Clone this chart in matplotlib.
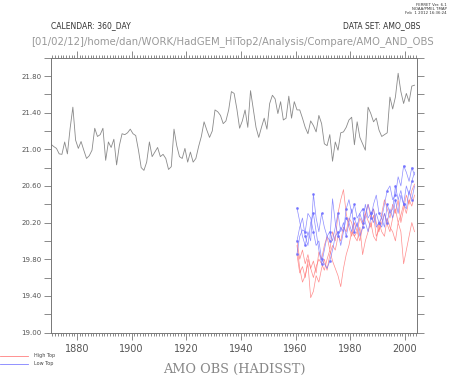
import numpy as np
import matplotlib.pyplot as plt
from matplotlib.ticker import FixedLocator, MultipleLocator, FormatStrFormatter

# HadISST AMO index (annual)
obs = [21.055, 21.03, 21.01, 20.95, 20.945, 21.08, 20.95, 21.23, 21.46, 21.10,
       21.01, 21.085, 20.99, 20.90, 20.93, 20.99, 21.23, 21.14, 21.16, 21.23,
       20.88, 21.08, 21.02, 21.11, 20.83, 21.04, 21.17, 21.16, 21.18, 21.22,
       21.17, 21.15, 20.99, 20.80, 20.77, 20.86, 21.08, 20.92, 20.97, 21.02,
       20.92, 20.945, 20.90, 20.78, 20.81, 21.22, 21.04, 20.92, 20.90, 21.01,
       20.86, 20.97, 20.86, 20.90, 21.03, 21.14, 21.30, 21.21, 21.13, 21.20,
       21.43, 21.41, 21.37, 21.28, 21.31, 21.43, 21.63, 21.61, 21.44, 21.23,
       21.31, 21.43, 21.24, 21.64, 21.44, 21.24,
       21.13, 21.24, 21.34, 21.22, 21.50, 21.59, 21.55, 21.39, 21.52, 21.32,
       21.34, 21.58, 21.34, 21.52, 21.43, 21.43, 21.34, 21.24, 21.17, 21.31,
       21.26, 21.19, 21.37, 21.28, 21.06, 21.04, 21.16, 20.87, 21.08, 20.99,
       21.18, 21.19, 21.24, 21.32, 21.35, 21.05, 21.30, 21.13, 21.06,
       20.99, 21.46, 21.39, 21.30, 21.34, 21.21, 21.14, 21.16, 21.18, 21.57,
       21.44, 21.57, 21.83, 21.63, 21.50, 21.61, 21.52, 21.69, 21.70]
obs_years = 1870.5 + np.arange(len(obs))

# model runs 1960-2003
run_years = 1960.5 + np.arange(44)
high_top = [
    [19.95, 19.70, 19.55, 19.62, 19.75, 19.38, 19.45, 19.62, 19.55, 19.70,
     19.80, 19.68, 19.85, 19.95, 19.90, 20.05, 20.00, 20.15, 20.10, 20.25,
     20.20, 20.05, 20.10, 20.25, 20.18, 20.30, 20.22, 20.15, 20.28, 20.05,
     20.12, 20.20, 20.30, 20.18, 20.10, 20.25, 20.35, 20.20, 20.28, 20.40,
     20.30, 20.45, 20.38, 20.50],
    [19.85, 19.65, 19.72, 19.60, 19.80, 19.70, 19.78, 19.65, 19.88, 19.80,
     19.95, 20.05, 19.90, 20.10, 20.00, 20.30, 20.45, 20.56, 20.30, 20.15,
     20.05, 20.20, 20.10, 20.00, 20.15, 20.30, 20.40, 20.25, 20.35, 20.20,
     20.10, 20.30, 20.45, 20.35, 20.25, 20.40, 20.30, 20.45, 20.20, 20.35,
     20.50, 20.40, 20.55, 20.62],
    [20.00, 19.80, 19.90, 19.75, 19.85, 19.70, 19.60, 19.72, 19.80, 19.75,
     19.68, 19.80, 19.90, 19.78, 19.70, 19.62, 19.50, 19.70, 19.85, 19.95,
     20.10, 20.05, 20.00, 20.15, 19.85, 20.00, 20.10, 20.20, 20.05, 20.00,
     20.20, 20.10, 20.05, 20.25, 20.15, 20.10, 20.00, 20.20, 20.10, 19.75,
     19.90, 20.05, 20.20, 20.10]]
low_top = [
    [20.36, 20.21, 20.05, 19.95, 20.10, 20.00, 20.51, 20.25, 20.10, 20.30,
     20.15, 20.05, 20.00, 20.46, 20.20, 20.05, 20.15, 20.10, 20.35, 20.45,
     20.30, 20.40, 20.25, 20.30, 20.35, 20.20, 20.10, 20.25, 20.40, 20.50,
     20.30, 20.25, 20.40, 20.55, 20.60, 20.45, 20.50, 20.70, 20.60, 20.82,
     20.75, 20.65, 20.80, 20.72],
    [19.86, 20.05, 20.12, 20.10, 20.30, 20.25, 20.10, 19.95, 20.00, 19.80,
     19.75, 19.70, 19.78, 19.90, 20.05, 20.10, 19.95, 20.10, 20.25, 20.20,
     20.35, 20.10, 20.20, 20.05, 20.15, 20.25, 20.40, 20.30, 20.20, 20.30,
     20.20, 20.25, 20.15, 20.40, 20.30, 20.35, 20.60, 20.45, 20.55, 20.40,
     20.60, 20.50, 20.65, 20.75],
    [20.00, 20.15, 20.25, 20.05, 19.95, 20.20, 20.30, 20.10, 19.90, 19.75,
     19.90, 20.05, 20.10, 20.00, 20.15, 20.30, 20.10, 20.20, 20.05, 20.20,
     20.10, 20.25, 20.15, 20.30, 20.20, 20.40, 20.25, 20.30, 20.35, 20.15,
     20.20, 20.15, 20.30, 20.20, 20.35, 20.25, 20.45, 20.30, 20.50, 20.40,
     20.35, 20.55, 20.45, 20.60]]

grey = '#777777'
fig = plt.figure(figsize=(4.52, 3.77), dpi=100)
ax = fig.add_axes([51/452, 1-332.5/377, 366/452, 274.8/377])

for r in high_top:
    ax.plot(run_years, r, color='#ff7070', lw=0.5, alpha=0.8)
for b in low_top:
    ax.plot(run_years, b, color='#7070ff', lw=0.5, alpha=0.8,
            marker='.', ms=2, markevery=3)
ax.plot(obs_years, obs, color='#8a8a8a', lw=0.6)

ax.set_xlim(1870.5, 2004.4)
ax.set_ylim(19.0, 22.0)
ax.xaxis.set_major_locator(MultipleLocator(20))
ax.xaxis.set_minor_locator(MultipleLocator(1))
ax.yaxis.set_major_locator(FixedLocator(np.arange(19.0, 21.9, 0.4)))
ax.yaxis.set_minor_locator(FixedLocator(np.arange(19.2, 22.0, 0.4)))
ax.yaxis.set_major_formatter(FormatStrFormatter('%.2f'))
ax.tick_params(which='both', direction='out', color=grey, width=0.6,
               top=True, right=True, labelcolor='#555555')
ax.tick_params(axis='x', which='major', length=5, labelsize=7, pad=3)
ax.tick_params(axis='x', which='minor', length=2.5)
ax.tick_params(axis='y', which='both', length=5, labelsize=5, pad=2)
for s in ax.spines.values():
    s.set_color(grey)
    s.set_linewidth(0.7)

fig.text(51/452, 1-26/377, 'CALENDAR: 360_DAY', fontsize=5.5, color='#333333',
         va='center', ha='left')
fig.text(420/452, 1-26/377, 'DATA SET: AMO_OBS', fontsize=5.5, color='#333333',
         va='center', ha='right')
fig.text(233/452, 1-42/377,
         '[01/02/12]/home/dan/WORK/HadGEM_HiTop2/Analysis/Compare/AMO_AND_OBS',
         fontsize=7.3, color='#999999', va='center', ha='center')
fig.text(447/452, 1-9/377, 'FERRET Ver. 6.1\nNOAA/PMEL TMAP\nFeb  1 2012 16:36:24',
         fontsize=2.8, color='#333333', va='center', ha='right',
         linespacing=1.1)

# legend in the bottom-left corner
fig.lines.append(plt.Line2D([0, 28/452], [1-355.5/377]*2, color='#ff8080',
                            lw=0.6, transform=fig.transFigure))
fig.lines.append(plt.Line2D([0, 28/452], [1-364/377]*2, color='#8080ff',
                            lw=0.6, transform=fig.transFigure))
fig.text(34/452, 1-355.5/377, 'High Top', fontsize=3.5, color='#444444',
         va='center')
fig.text(34/452, 1-364/377, 'Low Top', fontsize=3.5, color='#444444',
         va='center')
fig.text(234/452, 1-369.5/377, 'AMO OBS (HADISST)', family='serif',
         fontsize=9.3, color='#888888', va='center', ha='center')

fig.savefig('out.png', dpi=100)
